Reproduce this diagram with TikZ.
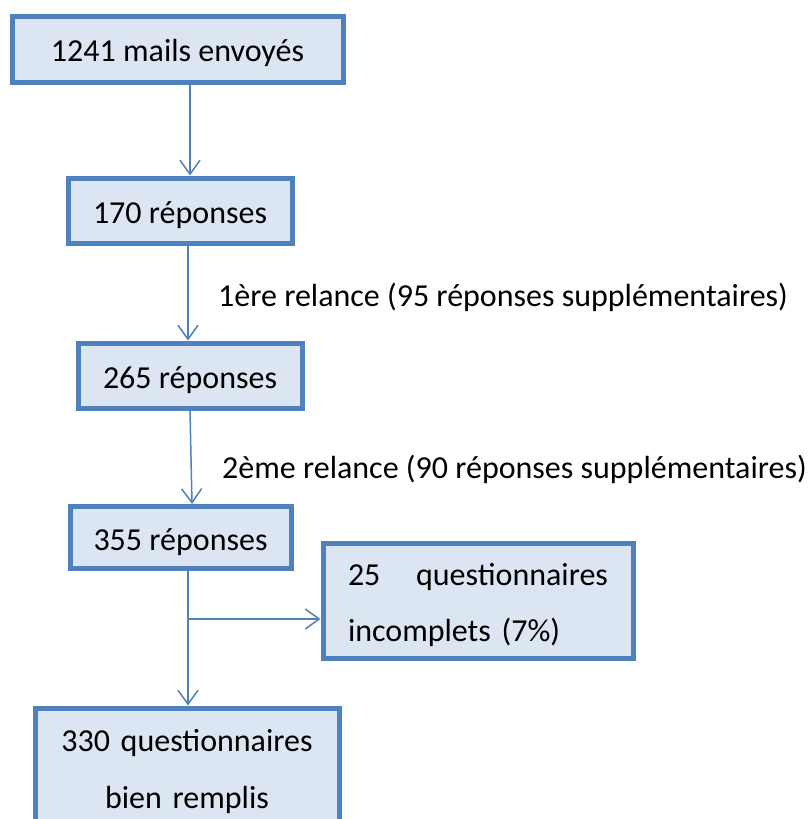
\documentclass[tikz,border=0pt]{standalone}
\usepackage{fontspec}
\setmainfont{Carlito}
\usetikzlibrary{arrows.meta,calc}
\definecolor{boxline}{HTML}{4F81BD}
\definecolor{boxfill}{HTML}{DCE6F2}
\begin{document}
\begin{tikzpicture}[x=1pt,y=-1pt,
  every node/.style={font=\fontsize{32}{38}\selectfont},
  flowbox/.style={draw=boxline,fill=boxfill,line width=5pt,inner sep=0pt,
    text height=29pt,text depth=4pt},
  twobox/.style={draw=boxline,fill=boxfill,line width=5pt,inner sep=0pt,
    font=\fontsize{32}{56.5}\selectfont,text height=34pt,text depth=64.5pt},
  conn/.style={draw=boxline,line width=1.5pt,
    -{Straight Barb[length=14pt,width=20pt,line width=1.5pt]}},
  lbl/.style={anchor=base west,inner sep=0pt}]
\useasboundingbox (0,0) rectangle (808,819);
\fill[white] (0,0) rectangle (808,819);
% boxes
\node[flowbox,minimum width=331pt,minimum height=66pt] (b1) at (177.5,49) {1241 mails envoyés};
\node[flowbox,minimum width=224pt,minimum height=65pt] (b2) at (180,210.5) {170 réponses};
\node[flowbox,minimum width=224pt,minimum height=65pt] (b3) at (190,375.5) {265 réponses};
\node[flowbox,minimum width=221pt,minimum height=62pt] (b4) at (180.5,537.5) {355 réponses};
\node[twobox,minimum width=310pt,minimum height=115pt,align=left,text width=260pt] (b5) at (478,600.5)
  {\makebox[260pt]{25\hfill questionnaires}\\\makebox[260pt][l]{incomplets (7\%)}};
\node[twobox,minimum width=304pt,minimum height=118pt,align=center,text width=280pt] (b6) at (187,767)
  {330 questionnaires\\bien remplis};
% columns for connectors
\coordinate (c1) at (190,0);
\coordinate (c2) at (188,0);
\coordinate (c3) at (192,0);
\coordinate (c4) at (188,0);
\coordinate (br) at (0,619);
% connectors
\draw[conn] (b1.south -| c1) -- (b2.north -| c1);
\draw[conn] (b2.south -| c2) -- (b3.north -| c2);
\draw[conn] (b3.south) -- (b4.north -| c3);
\draw[conn] (b4.south -| c4) -- (b6.north -| c4);
\draw[conn] (c4 |- br) -- (b5.west |- br);
% labels
\node[lbl] (l1) at (218,306) {1ère relance (95 réponses supplémentaires)};
\node[lbl] (l2) at (222,478) {2ème relance (90 réponses supplémentaires)};
\end{tikzpicture}
\end{document}
